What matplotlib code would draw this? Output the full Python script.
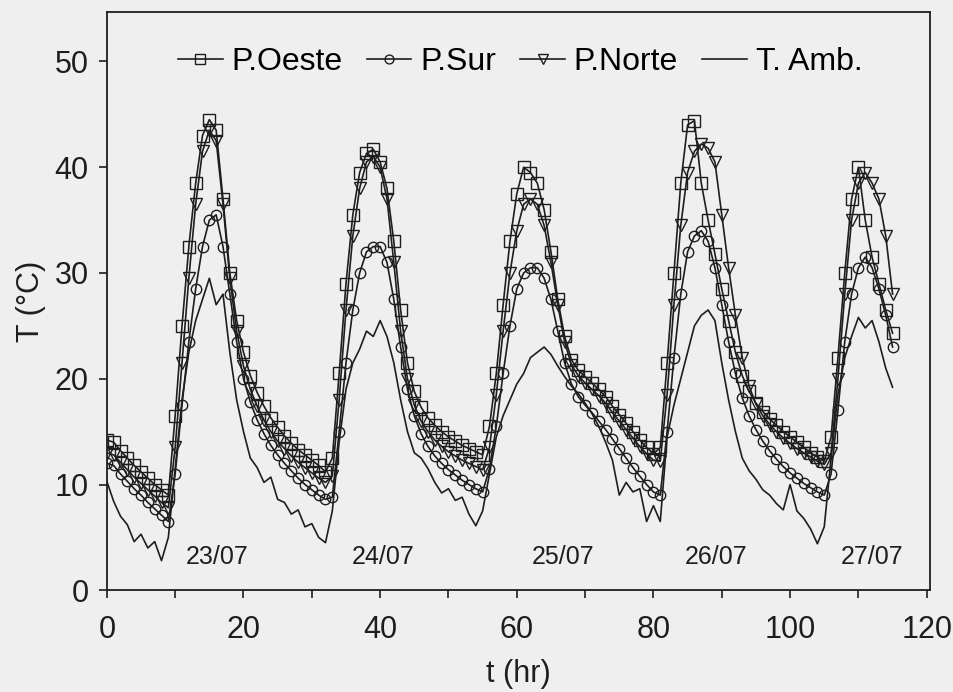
import numpy as np
import matplotlib
matplotlib.use("Agg")
import matplotlib.pyplot as plt

# hourly readings, t = 0 .. 115 hr
hours = np.arange(0, 116)

p_oeste = [
    14.2, 14.0, 13.2, 12.5, 11.8, 11.2, 10.6, 10.0, 9.5, 9.0,
    16.5, 25.0, 32.5, 38.5, 43.0, 44.5,
    43.5, 37.0, 30.0, 25.5, 22.5, 20.3, 18.7, 17.4, 16.3, 15.4, 14.6, 13.9, 13.3, 12.8, 12.3, 11.8, 11.2, 12.5,
    20.5, 29.0, 35.5, 39.5, 41.3, 41.7,
    40.5, 38.0, 33.0, 26.5, 21.5, 18.8, 17.3, 16.3, 15.6, 15.0, 14.5, 14.1, 13.7, 13.4, 13.1, 12.8,
    15.5, 20.5, 27.0, 33.0, 37.5, 40.0,
    39.5, 38.5, 36.0, 32.0, 27.5, 24.0, 21.8, 20.8, 20.2, 19.6, 19.0, 18.3, 17.4, 16.6, 15.8, 15.0, 14.2, 13.5, 12.9, 13.5,
    21.5, 30.0, 38.5, 44.0, 44.4,
    38.5, 35.0, 31.8, 28.5, 25.5, 22.5, 20.3, 18.8, 17.7, 16.9, 16.2, 15.6, 15.0, 14.5, 14.0, 13.5, 13.0, 12.6, 12.2,
    14.5, 22.0, 30.0, 37.0, 40.0, 35.0, 31.5, 29.0, 26.5, 24.3,
]

p_sur = [
    12.0, 11.8, 11.0, 10.3, 9.6, 9.0, 8.3, 7.7, 7.1, 6.5,
    11.0, 17.5, 23.5, 28.5, 32.5, 35.0,
    35.5, 32.5, 28.0, 23.5, 20.0, 17.8, 16.1, 14.8, 13.7, 12.8, 12.0, 11.3, 10.6, 10.0, 9.5, 9.0, 8.6, 8.8,
    15.0, 21.5, 26.5, 30.0, 32.0, 32.5,
    32.5, 31.0, 27.5, 23.0, 19.0, 16.5, 14.8, 13.6, 12.7, 12.0, 11.4, 10.9, 10.4, 10.0, 9.6, 9.3,
    11.5, 15.5, 20.5, 25.0, 28.5, 30.0,
    30.5, 30.5, 29.5, 27.5, 24.5, 21.5, 19.5, 18.3, 17.5, 16.8, 16.0, 15.2, 14.3, 13.4, 12.5, 11.6, 10.8, 10.0, 9.3, 9.0,
    15.0, 22.0, 28.0, 32.0, 33.5,
    34.0, 33.0, 30.5, 27.0, 23.5, 20.5, 18.2, 16.5, 15.2, 14.1, 13.2, 12.4, 11.7, 11.1, 10.6, 10.1, 9.7, 9.3, 9.0,
    11.0, 17.0, 23.5, 28.0, 30.5, 31.5, 30.5, 28.5, 26.0, 23.0,
]

p_norte = [
    13.0, 12.8, 12.1, 11.4, 10.7, 10.1, 9.5, 8.9, 8.3, 7.8,
    13.5, 21.5, 29.5, 36.5, 41.5, 43.5,
    42.5, 36.5, 29.5, 24.5, 21.2, 19.0, 17.4, 16.1, 15.0, 14.1, 13.4, 12.7, 12.1, 11.6, 11.1, 10.6, 10.2, 10.8,
    18.0, 26.5, 33.5, 38.0, 40.5, 41.0,
    40.0, 37.0, 31.0, 24.5, 20.0, 17.5, 16.0, 15.0, 14.2, 13.6, 13.1, 12.7, 12.3, 12.0, 11.7, 11.4,
    13.5, 18.5, 24.5, 30.0, 34.0, 36.5,
    37.0, 36.5, 34.5, 31.0, 27.0, 23.5, 21.3, 20.3, 19.6, 19.0, 18.4, 17.7, 16.8, 16.0, 15.2, 14.4, 13.6, 12.9, 12.3, 12.2,
    18.5, 27.0, 34.5, 39.5, 41.5,
    42.2, 41.8, 40.5, 35.5, 30.5, 26.0, 22.0, 19.3, 17.6, 16.5, 15.7, 15.0, 14.4, 13.9, 13.4, 13.0, 12.6, 12.2, 11.9,
    13.0, 20.0, 28.0, 35.0, 38.5, 39.5, 38.5, 37.0, 33.5, 28.0,
]

t_amb = [
    10.3, 8.4, 7.0, 6.2, 4.6, 5.3, 4.0, 4.6, 2.8, 5.0,
    11.5, 18.0, 22.5, 25.5, 27.5, 29.5,
    27.0, 28.0, 22.5, 18.0, 15.0, 12.5, 11.6, 10.2, 10.7, 8.6, 8.3, 7.2, 7.6, 6.0, 6.3, 5.0, 4.5, 7.5,
    14.0, 19.0, 21.5, 22.8, 24.5, 24.0,
    25.5, 24.0, 21.5, 18.0, 15.0, 13.0, 12.5, 11.5, 10.2, 9.2, 9.6, 8.5, 8.8, 7.2, 6.1, 7.5,
    11.0, 14.5, 16.5, 18.0, 19.5, 20.5,
    22.0, 22.5, 23.0, 22.3, 21.2, 20.2, 19.3, 18.6, 17.7, 16.7, 15.5, 14.0, 12.3, 9.0, 10.2, 9.3, 9.6, 6.5, 8.0, 6.5,
    14.5, 17.5, 20.0, 22.5, 25.0,
    26.0, 26.5, 25.5, 21.5, 18.0, 15.0, 12.5, 11.3, 10.5, 9.5, 9.0, 8.2, 7.6, 10.0, 7.5, 6.8, 5.8, 4.4, 6.0,
    12.5, 18.5, 22.0, 24.0, 25.8, 24.8, 25.5, 23.5, 21.0, 19.2,
]

day_labels = ["23/07", "24/07", "25/07", "26/07", "27/07"]
day_label_t = [16.1, 40.4, 66.7, 89.1, 112.0]

plt.rcParams["font.family"] = ["Liberation Sans", "DejaVu Sans"]
bg = "#efefef"
ink = "#1e1e1e"

fig = plt.figure(figsize=(9.54, 6.92), dpi=100, facecolor=bg)
ax = fig.add_axes([0.112, 0.147, 0.863, 0.836], facecolor=bg)

mk = dict(color=ink, lw=1.2, mfc="none", mew=1.0)
ax.plot(hours, p_oeste, marker="s", ms=9, label="P.Oeste", **mk)
ax.plot(hours, p_sur, marker="o", ms=7.5, label="P.Sur", **mk)
ax.plot(hours, p_norte, marker="v", ms=9, label="P.Norte", **mk)
ax.plot(hours, t_amb, color=ink, lw=1.2, label="T. Amb.")

for lab, tx in zip(day_labels, day_label_t):
    ax.text(tx, 3.1, lab, ha="center", va="center", fontsize=18, color=ink)

ax.set_xlim(0, 120.5)
ax.set_ylim(0, 54.7)
ax.set_xticks(range(0, 121, 20))
ax.set_xticks(range(10, 121, 20), minor=True)
ax.set_yticks(range(0, 51, 10))
ax.tick_params(axis="both", which="both", direction="out", length=6, width=1.2,
               labelsize=22, colors=ink)
ax.tick_params(axis="x", which="major", pad=12)
ax.tick_params(axis="y", pad=7)
for s in ax.spines.values():
    s.set_linewidth(1.3)
    s.set_color(ink)

ax.set_xlabel("t (hr)", fontsize=22, color=ink, labelpad=10)
ax.set_ylabel("T (\u00b0C)", fontsize=22, color=ink, labelpad=6)

leg = ax.legend(loc="center", bbox_to_anchor=(0.502, 0.913), ncol=4, frameon=False,
                fontsize=23, handlelength=1.4, handletextpad=0.28, columnspacing=0.75,
                borderpad=0.2, markerscale=0.85)

fig.savefig("out.png", dpi=100, facecolor=bg)
